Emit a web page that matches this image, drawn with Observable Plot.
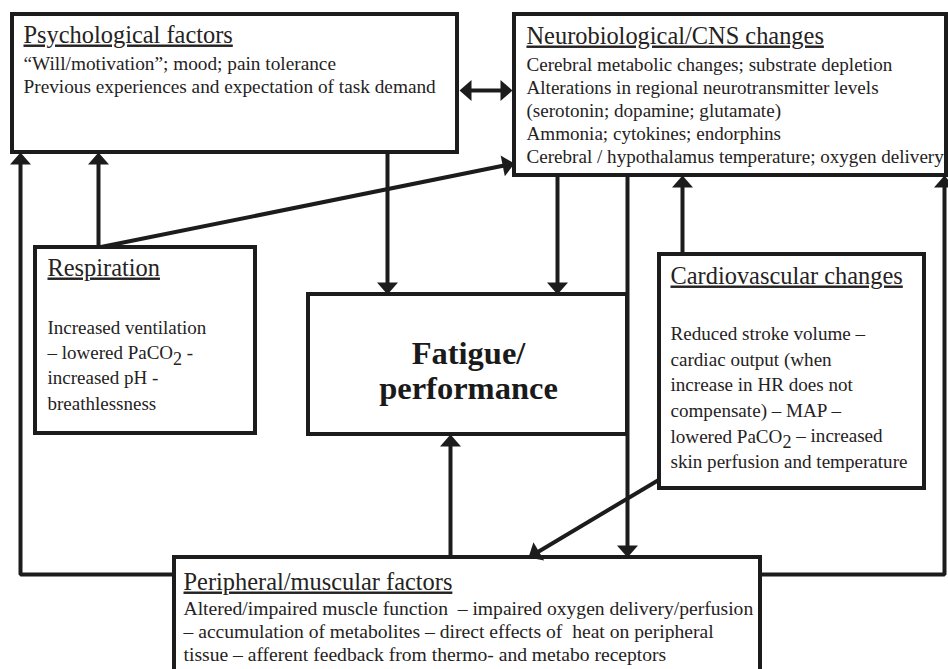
<!DOCTYPE html>
<html><head><meta charset="utf-8">
<script src="https://cdn.jsdelivr.net/npm/d3@7"></script>
<script src="https://cdn.jsdelivr.net/npm/@observablehq/plot@0.6"></script>
<style>body{margin:0;background:#fff}#chart svg{display:block;background:#fff}</style>
</head><body><div id="chart"></div>
<script>
// ---- content ----
const boxNames = ["psych", "neuro", "resp", "fatigue", "cardio", "periph"];
const boxTitles = [
  "Psychological factors",
  "Neurobiological/CNS changes",
  "Respiration",
  "",
  "Cardiovascular changes",
  "Peripheral/muscular factors"
];
const boxBodies = [
  "“Will/motivation”; mood; pain tolerance\nPrevious experiences and expectation of task demand",
  "Cerebral metabolic changes; substrate depletion\nAlterations in regional neurotransmitter levels\n(serotonin; dopamine; glutamate)\nAmmonia; cytokines; endorphins\nCerebral / hypothalamus temperature; oxygen delivery",
  "Increased ventilation\n– lowered PaCO₂ -\nincreased pH -\nbreathlessness",
  "Fatigue/\nperformance",
  "Reduced stroke volume –\ncardiac output (when\nincrease in HR does not\ncompensate) – MAP –\nlowered PaCO₂ – increased\nskin perfusion and temperature",
  "Altered/impaired muscle function  – impaired oxygen delivery/perfusion\n– accumulation of metabolites – direct effects of  heat on peripheral\ntissue – afferent feedback from thermo- and metabo receptors"
];

// ---- diagram layout (diagram units) ----
const boxLeft   = [12, 514, 35, 308, 659, 174];
const boxTop    = [14, 14, 247, 294, 254, 557];
const boxRight  = [457, 946, 255, 627, 924, 760];
const boxBottom = [152, 175, 433, 434, 488, 700];
const titleBase = [42, 43, 275, null, 283, 589];
const textLeft  = [23, 526, 47, 468, 670, 183];
const bodyBase  = [67, 68, 329, 362, 335, 612];
const bodyLead  = [23, 23, 25.3, 35, 25.6, 23];
const bodySize  = [19.3, 19.1, 19.0, 32.5, 19.1, 19.6];

// connectors: polylines from -> to, with arrowheads
const connectors = [
  {pts: [[459, 90], [512, 90]], start: true, end: true},
  {pts: [[174, 574], [20, 574], [20, 152]], end: true},
  {pts: [[98, 247], [98, 152]], end: true},
  {pts: [[98, 247], [514, 163]], end: true},
  {pts: [[387, 152], [387, 294]], end: true},
  {pts: [[557, 175], [557, 294]], end: true},
  {pts: [[627, 175], [627, 557]], end: true},
  {pts: [[682, 254], [682, 175]], end: true},
  {pts: [[760, 574], [944, 574], [944, 175]], end: true},
  {pts: [[659, 479], [528, 557]], end: true},
  {pts: [[450, 557], [450, 434]], end: true}
];

// ---- build ----
const ink = "#1c1c1c", txt = "#252222";
const FONT = "Liberation Serif, Times New Roman, serif";
const BACK = 8;
const linePts = [], heads = [];
connectors.forEach((c, id) => {
  const p = c.pts.map(d => d.slice());
  const n = p.length;
  const head = (tip, from) => {
    const dx = tip[0] - from[0], dy = tip[1] - from[1], L = Math.hypot(dx, dy);
    heads.push({x: tip[0], y: tip[1], a: Math.atan2(dx, -dy) * 180 / Math.PI});
    return [tip[0] - dx / L * BACK, tip[1] - dy / L * BACK];
  };
  const origEnd = p[n - 1], origStart = p[0];
  if (c.end) p[n - 1] = head(origEnd, c.pts[n - 2]);
  if (c.start) p[0] = head(origStart, c.pts[1]);
  p.forEach(([x, y]) => linePts.push({id, x, y}));
});

const boxes = boxNames.map((name, i) => ({name, x1: boxLeft[i], y1: boxTop[i], x2: boxRight[i], y2: boxBottom[i]}));
const arrowHead = {draw(ctx) { ctx.moveTo(0, 0); ctx.lineTo(-10.5, 12); ctx.lineTo(10.5, 12); ctx.closePath(); }};

const marks = [
  Plot.line(linePts, {x: "x", y: "y", z: "id", stroke: ink, strokeWidth: 4, strokeLinejoin: "miter", strokeLinecap: "butt"}),
  Plot.rect(boxes, {x1: "x1", y1: "y1", x2: "x2", y2: "y2", fill: "white", stroke: ink, strokeWidth: 4}),
  Plot.dot(heads, {x: "x", y: "y", rotate: "a", symbol: arrowHead, fill: ink, stroke: "none"})
];

const titleData = boxNames.map((n, i) => ({t: boxTitles[i], x: textLeft[i], y: titleBase[i]})).filter(d => d.t);
const TFS = 24.4;
marks.push(Plot.text(titleData, {x: "x", y: (d) => d.y - 0.71 * TFS, text: "t", textAnchor: "start", lineAnchor: "top", fontSize: TFS, fontFamily: FONT, fill: txt}));

boxNames.forEach((n, i) => {
  const bold = n === "fatigue";
  const fs = bodySize[i];
  marks.push(Plot.text([{t: boxBodies[i], x: textLeft[i], y: bodyBase[i] - 0.71 * fs}], {
    x: "x", y: "y", text: "t", textAnchor: bold ? "middle" : "start", lineAnchor: "top",
    lineHeight: bodyLead[i] / fs, fontSize: fs, fontWeight: bold ? "bold" : "normal", fontFamily: FONT, fill: bold ? "#1a1a1a" : txt
  }));
});

const svg = Plot.plot({
  width: 948, height: 669, margin: 0,
  x: {domain: [0, 948], range: [0, 948], axis: null},
  y: {domain: [0, 669], range: [0, 669], axis: null},
  style: {background: "white", overflow: "hidden"},
  marks
});

// underline titles; proper subscripts
const titleSet = new Set(boxTitles.filter(Boolean));
svg.querySelectorAll("text").forEach(t => {
  if (titleSet.has(t.textContent)) t.setAttribute("text-decoration", "underline");
});
svg.querySelectorAll("tspan, text").forEach(el => {
  if (el.childNodes.length === 1 && el.firstChild.nodeType === 3 && el.textContent.includes("₂")) {
    const [a, b] = el.textContent.split("₂");
    el.textContent = a;
    const sub = document.createElementNS("http://www.w3.org/2000/svg", "tspan");
    sub.setAttribute("dy", "0.3em"); sub.setAttribute("font-size", "0.95em"); sub.textContent = "2";
    const rest = document.createElementNS("http://www.w3.org/2000/svg", "tspan");
    rest.setAttribute("dy", "-0.3em"); rest.textContent = b;
    el.appendChild(sub); el.appendChild(rest);
  }
});
document.getElementById("chart").appendChild(svg);
</script>
</body></html>
